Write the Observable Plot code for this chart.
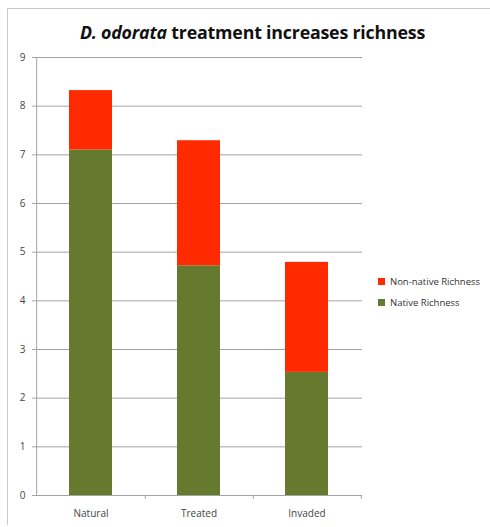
<!DOCTYPE html>
<html>
<head>
<meta charset="utf-8">
<script src="https://cdn.jsdelivr.net/npm/d3@7"></script>
<script src="https://cdn.jsdelivr.net/npm/@observablehq/plot@0.6"></script>
<style>
  html, body { margin: 0; padding: 0; background: #fff; }
  #wrap { position: relative; width: 490px; height: 527px; overflow: hidden; font-family: "Open Sans", sans-serif; }
  #frame { position: absolute; left: 7px; top: 8px; width: 600px; height: 516px; border-left: 1.5px solid #c9c9c9; border-top: 1.5px solid #c9c9c9; }
  #title { position: absolute; left: 0; top: 20px; width: 505px; text-align: center; font-weight: bold; font-size: 17.8px; color: #111; letter-spacing: -0.2px; }
  #chart { position: absolute; left: 0; top: 0; }
  #legend { position: absolute; left: 378px; top: 271px; font-size: 9.5px; color: #333; }
  .item { display: flex; align-items: center; height: 21px; }
  .sw { width: 7px; height: 7px; margin-right: 5px; }
</style>
</head>
<body>
<div id="wrap">
  <div id="frame"></div>
  <div id="chart"></div>
  <div id="title"><i>D. odorata</i> treatment increases richness</div>
  <div id="legend"></div>
</div>
<script>
const categories = ["Natural", "Treated", "Invaded"];
const nativeRichness = [7.1, 4.72, 2.53];
const nonNativeRichness = [1.22, 2.57, 2.26];
const seriesNames = ["Native Richness", "Non-native Richness"];
const seriesColors = ["#65792f", "#ff2a00"];
const yTicks = [0, 1, 2, 3, 4, 5, 6, 7, 8, 9];

const data = [];
categories.forEach((c, i) => {
  data.push({cat: c, series: seriesNames[0], value: nativeRichness[i]});
  data.push({cat: c, series: seriesNames[1], value: nonNativeRichness[i]});
});

const W = 490, ML = 36, MR = 128;
const halfStep = (W - ML - MR) / categories.length / 2;

const chart = Plot.plot({
  width: W,
  height: 527,
  marginLeft: ML,
  marginRight: MR,
  marginTop: 57,
  marginBottom: 32,
  style: {fontFamily: "Open Sans, sans-serif", fontSize: "10px", color: "#454545", background: "transparent"},
  x: {domain: categories, paddingInner: 0.6, paddingOuter: 0.3, label: null},
  y: {domain: [0, 9], label: null},
  color: {domain: seriesNames, range: seriesColors},
  marks: [
    Plot.gridY(yTicks, {stroke: "#a3a3a3", strokeOpacity: 1, strokeWidth: 1}),
    Plot.barY(data, Plot.stackY({x: "cat", y: "value", fill: "series", order: seriesNames})),
    Plot.ruleY([0], {stroke: "#a3a3a3", strokeWidth: 1}),
    Plot.ruleX([categories[0]], {x: d => d, dx: -halfStep, stroke: "#a3a3a3"}),
    Plot.ruleX(categories, {x: d => d, dx: halfStep, y1: 0, y2: 0, insetBottom: -4, stroke: "#a3a3a3"}),
    Plot.axisY(yTicks, {tickSize: 4, tickPadding: 7, stroke: "#a3a3a3", fill: "#454545", fontSize: 10, label: null}),
    Plot.axisX({tickSize: 0, tickPadding: 14, fill: "#454545", fontSize: 10, label: null})
  ]
});
document.getElementById("chart").appendChild(chart);

const legend = document.getElementById("legend");
[1, 0].forEach(i => {
  const row = document.createElement("div");
  row.className = "item";
  const sw = document.createElement("div");
  sw.className = "sw";
  sw.style.background = seriesColors[i];
  const t = document.createElement("span");
  t.textContent = seriesNames[i];
  row.appendChild(sw);
  row.appendChild(t);
  legend.appendChild(row);
});
</script>
</body>
</html>
